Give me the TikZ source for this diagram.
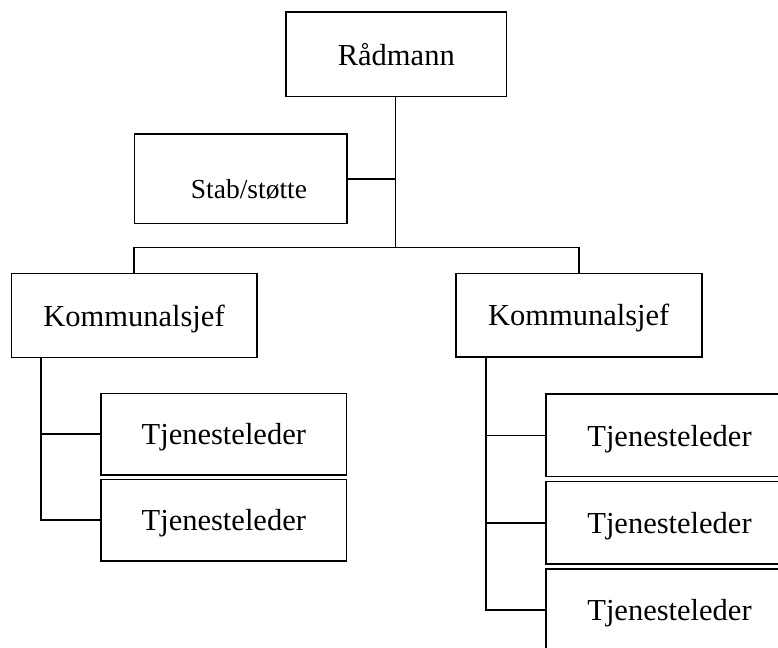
\documentclass[tikz,border=0pt]{standalone}
\usepackage{fontspec}
\setmainfont{Liberation Serif}
\tikzset{
  orgbox/.style={draw=black, line width=1.6pt, rectangle, inner sep=0pt, fill=white},
  orgtext/.style={font=\fontsize{30.5}{36}\selectfont, text height=21.4pt, text depth=0pt, inner sep=0pt},
  stabtext/.style={font=\fontsize{27.5}{33}\selectfont, text height=19.3pt, text depth=0pt, inner sep=0pt},
  conn/.style={draw=black, line width=1.6pt}
}
\begin{document}
\begin{tikzpicture}[x=1pt, y=-1pt]
\path[use as bounding box, clip] (0,0) rectangle (778,647);
\fill[white] (0,0) rectangle (778,647);
% boxes
\node[orgbox, orgtext, minimum width=220.7pt, minimum height=84.4pt] (rad) at (396.3,54.5) {Rådmann};
\node[orgbox, minimum width=212.4pt, minimum height=89.3pt] (stab) at (240.5,178.7) {};
\node[stabtext] (stablabel) at (249,188.7) {Stab/støtte};
\node[orgbox, orgtext, minimum width=245.4pt, minimum height=84pt] (k1) at (134,315.3) {Kommunalsjef};
\node[orgbox, orgtext, minimum width=246pt, minimum height=83.4pt] (k2) at (578.7,315) {Kommunalsjef};
\node[orgbox, orgtext, minimum width=245.7pt, minimum height=81.7pt] (t1a) at (223.8,434.2) {Tjenesteleder};
\node[orgbox, orgtext, minimum width=245.7pt, minimum height=81.4pt] (t1b) at (223.8,520) {Tjenesteleder};
\node[orgbox, orgtext, minimum width=247pt, minimum height=82.7pt] (t2a) at (669.5,435.3) {Tjenesteleder};
\node[orgbox, orgtext, minimum width=247pt, minimum height=82.3pt] (t2b) at (669.5,522.8) {Tjenesteleder};
\node[orgbox, orgtext, minimum width=247pt, minimum height=82pt] (t2c) at (669.5,610) {Tjenesteleder};
% connectors
\coordinate (bus) at (395.3,247.5);
\draw[conn] (rad.south -| bus) -- (bus);
\draw[conn] (stab.east) -- (stab.east -| bus);
\draw[conn] (k1.north) |- (bus) -| (k2.north);
\coordinate (lspine) at ([xshift=30.4pt]k1.south west);
\coordinate (rspine) at ([xshift=31pt]k2.south west);
\draw[conn] (lspine) |- (t1b.west);
\draw[conn] (t1a.west) -- (t1a.west -| lspine);
\draw[conn] (rspine) |- (t2c.west);
\draw[conn] (t2a.west) -- (t2a.west -| rspine);
\draw[conn] (t2b.west) -- (t2b.west -| rspine);
\end{tikzpicture}
\end{document}
